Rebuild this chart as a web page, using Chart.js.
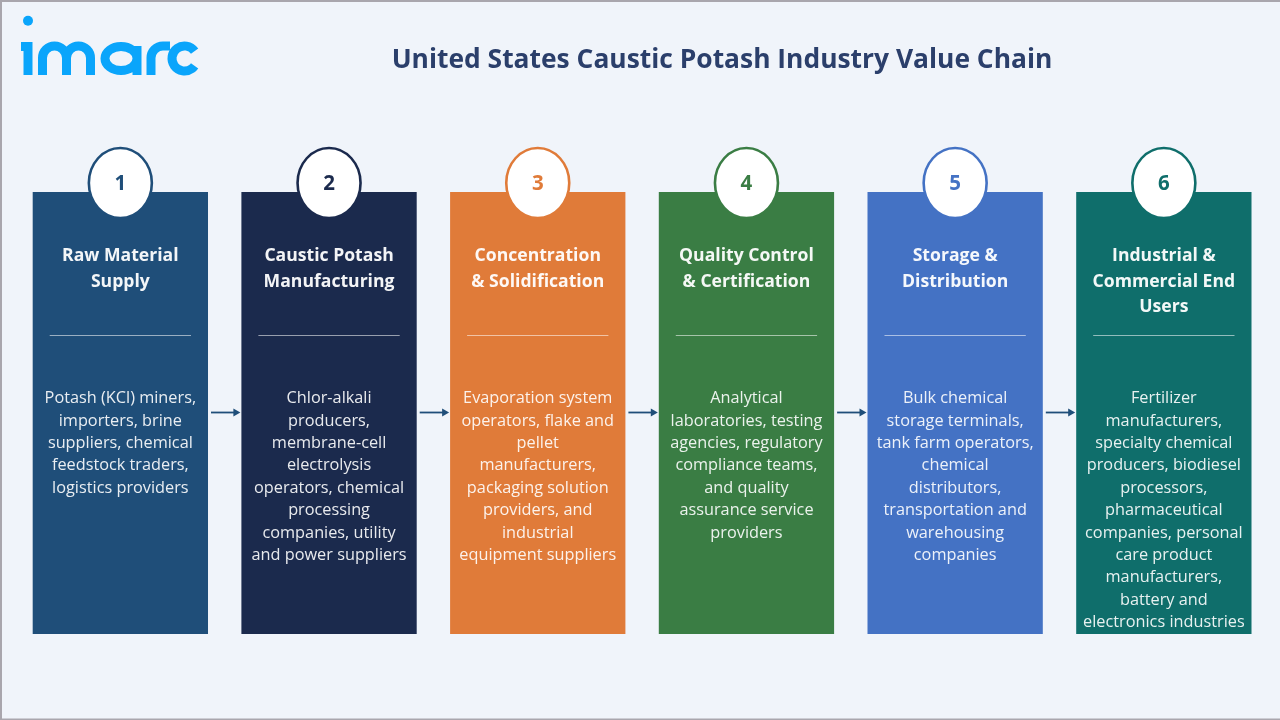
<!DOCTYPE html>
<html>
<head>
<meta charset="utf-8">
<title>United States Caustic Potash Industry Value Chain</title>
<script src="https://cdn.jsdelivr.net/npm/chart.js@4"></script>
<style>
    html, body { margin: 0; padding: 0; background: #f0f4fa; }
    canvas { display: block; }
</style>
</head>
<body>
<canvas id="value_chain_chart" width="1280" height="720"></canvas>
<script>
const chart_title = "United States Caustic Potash Industry Value Chain";
const step_numbers = ["1", "2", "3", "4", "5", "6"];
const step_values = [100, 100, 100, 100, 100, 100];
const step_names = [
    ["Raw Material", "Supply"],
    ["Caustic Potash", "Manufacturing"],
    ["Concentration", "& Solidification"],
    ["Quality Control", "& Certification"],
    ["Storage &", "Distribution"],
    ["Industrial &", "Commercial End", "Users"]
];
const step_descriptions = [
    ["Potash (KCl) miners,", "importers, brine", "suppliers, chemical", "feedstock traders,", "logistics providers"],
    ["Chlor-alkali", "producers,", "membrane-cell", "electrolysis", "operators, chemical", "processing", "companies, utility", "and power suppliers"],
    ["Evaporation system", "operators, flake and", "pellet", "manufacturers,", "packaging solution", "providers, and", "industrial", "equipment suppliers"],
    ["Analytical", "laboratories, testing", "agencies, regulatory", "compliance teams,", "and quality", "assurance service", "providers"],
    ["Bulk chemical", "storage terminals,", "tank farm operators,", "chemical", "distributors,", "transportation and", "warehousing", "companies"],
    ["Fertilizer", "manufacturers,", "specialty chemical", "producers, biodiesel", "processors,", "pharmaceutical", "companies, personal", "care product", "manufacturers,", "battery and", "electronics industries"]
];
const step_colors = ["#1f4e79", "#1b2a4d", "#e07b39", "#3a7d44", "#4472c4", "#0f6e6b"];

const FONT = '"Open Sans", sans-serif';

function drawLogo(ctx) {
    ctx.save();
    ctx.strokeStyle = "#0aa5fb";
    ctx.fillStyle = "#0aa5fb";
    ctx.lineWidth = 9;
    ctx.lineCap = "butt";
    // i
    ctx.beginPath();
    ctx.arc(28, 20.7, 5, 0, Math.PI * 2);
    ctx.fill();
    ctx.beginPath();
    ctx.moveTo(21, 46.5);
    ctx.lineTo(28, 46.5);
    ctx.lineTo(28, 75);
    ctx.stroke();
    // m
    ctx.beginPath();
    ctx.moveTo(42.5, 75);
    ctx.lineTo(42.5, 58);
    ctx.arc(54.5, 58, 12, Math.PI, 0);
    ctx.lineTo(66.5, 75);
    ctx.moveTo(66.5, 58);
    ctx.arc(78.5, 58, 12, Math.PI, 0);
    ctx.lineTo(90.5, 75);
    ctx.stroke();
    // a
    ctx.beginPath();
    ctx.ellipse(121, 58.5, 16, 12, 0, 0, Math.PI * 2);
    ctx.moveTo(137, 46);
    ctx.lineTo(137, 75);
    ctx.stroke();
    // r
    ctx.beginPath();
    ctx.moveTo(151, 75);
    ctx.lineTo(151, 58);
    ctx.arc(163, 58, 12, Math.PI, Math.PI * 1.5);
    ctx.lineTo(170, 46);
    ctx.stroke();
    // c
    ctx.beginPath();
    ctx.arc(184.5, 58.5, 12.5, -Math.PI * 0.2, Math.PI * 0.2, true);
    ctx.stroke();
    ctx.restore();
}

function drawLines(ctx, lines, x, y, step) {
    lines.forEach(function (line, i) {
        ctx.fillText(line, x, y + i * step);
    });
}

const valueChainPlugin = {
    id: "valueChain",
    beforeDraw: function (chart) {
        const ctx = chart.ctx;
        ctx.save();
        ctx.fillStyle = "#f0f4fa";
        ctx.fillRect(0, 0, chart.width, chart.height);
        ctx.fillStyle = "#a9a6ad";
        ctx.fillRect(0, 0, chart.width, 2);
        ctx.fillRect(0, 0, 2, chart.height);
        ctx.fillRect(0, chart.height - 1.5, chart.width, 1.5);
        ctx.restore();
    },
    afterDatasetsDraw: function (chart) {
        const ctx = chart.ctx;
        const bars = chart.getDatasetMeta(0).data;
        ctx.save();
        drawLogo(ctx);
        ctx.textAlign = "center";
        ctx.textBaseline = "middle";

        ctx.fillStyle = "#2b3f6b";
        ctx.font = "700 26.4px " + FONT;
        ctx.fillText(chart_title, 722, 60.5);

        bars.forEach(function (bar, i) {
            const color = step_colors[i];
            const half = bar.width / 2;

            // connector to the next card
            if (i < bars.length - 1) {
                const from = bar.x + half + 3;
                const to = bars[i + 1].x - bars[i + 1].width / 2 - 1;
                const arrowY = bar.y + 220.5;
                ctx.strokeStyle = "#1f4e79";
                ctx.fillStyle = "#1f4e79";
                ctx.lineWidth = 1.8;
                ctx.beginPath();
                ctx.moveTo(from, arrowY);
                ctx.lineTo(to - 5, arrowY);
                ctx.stroke();
                ctx.beginPath();
                ctx.moveTo(to, arrowY);
                ctx.lineTo(to - 7, arrowY - 4);
                ctx.lineTo(to - 7, arrowY + 4);
                ctx.closePath();
                ctx.fill();
            }

            // number badge
            ctx.beginPath();
            ctx.ellipse(bar.x, bar.y - 9, 31.5, 35, 0, 0, Math.PI * 2);
            ctx.fillStyle = "#ffffff";
            ctx.fill();
            ctx.lineWidth = 2.6;
            ctx.strokeStyle = color;
            ctx.stroke();
            ctx.fillStyle = color;
            ctx.font = "700 20.5px " + FONT;
            ctx.fillText(step_numbers[i], bar.x, bar.y - 8);

            // heading
            ctx.fillStyle = "rgba(255,255,255,0.95)";
            ctx.font = "700 17.6px " + FONT;
            drawLines(ctx, step_names[i], bar.x, bar.y + 64, 25.6);

            // divider
            ctx.strokeStyle = "rgba(255,255,255,0.55)";
            ctx.lineWidth = 1;
            ctx.beginPath();
            ctx.moveTo(bar.x - half + 17, bar.y + 143.5);
            ctx.lineTo(bar.x + half - 17, bar.y + 143.5);
            ctx.stroke();

            // description
            ctx.fillStyle = "rgba(255,255,255,0.9)";
            ctx.font = "16.3px " + FONT;
            drawLines(ctx, step_descriptions[i], bar.x, bar.y + 206.5, 22.4);
        });
        ctx.restore();
    }
};

const myChart = new Chart(document.getElementById("value_chain_chart"), {
    type: "bar",
    data: {
        labels: step_numbers,
        datasets: [{
            label: "Value chain",
            data: step_values,
            backgroundColor: step_colors,
            borderWidth: 0,
            barPercentage: 0.84,
            categoryPercentage: 1
        }]
    },
    options: {
        responsive: false,
        animation: false,
        layout: {
            padding: { left: 16, right: 11.8, top: 192, bottom: 86 }
        },
        scales: {
            x: { display: false },
            y: { display: false, min: 0, max: 100 }
        },
        plugins: {
            legend: { display: false },
            title: { display: false },
            tooltip: { enabled: false }
        }
    },
    plugins: [valueChainPlugin]
});
</script>
</body>
</html>
